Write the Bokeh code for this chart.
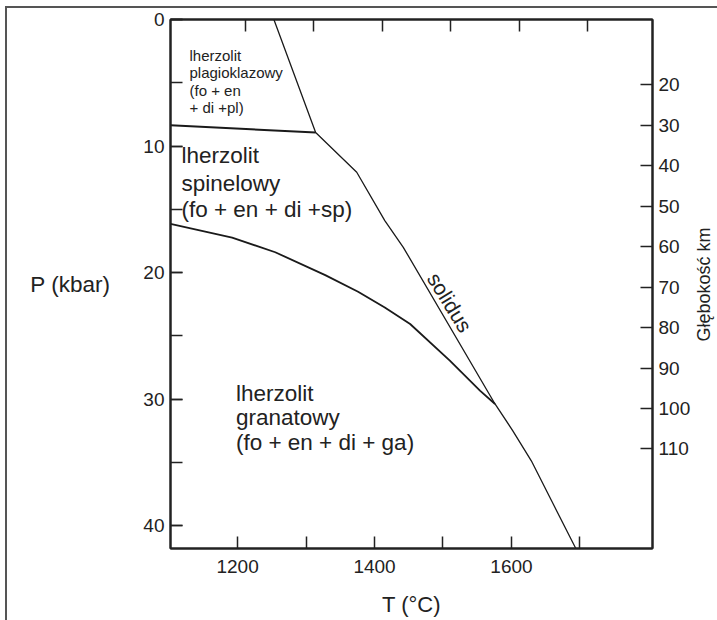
import math
from bokeh.plotting import figure
from bokeh.layouts import row
from bokeh.models import Range1d, LinearAxis, FixedTicker, SingleIntervalTicker
from bokeh.core.properties import value
from bokeh.embed import file_html
from bokeh.resources import INLINE

# ---------------- data ----------------
# solidus: T (degC), P (kbar)
solidus_T = [1253, 1314, 1374, 1415, 1442, 1576, 1602, 1629, 1661, 1694]
solidus_P = [0.0, 8.93, 12.07, 15.89, 18.0, 30.38, 32.5, 34.87, 38.29, 41.8]
# plagioclase / spinel lherzolite boundary
plag_T = [1102, 1314]
plag_P = [8.36, 8.93]
# spinel / garnet lherzolite boundary
garnet_T = [1102, 1192, 1255, 1328, 1376, 1415, 1452, 1510, 1554, 1576]
garnet_P = [16.15, 17.24, 18.39, 20.20, 21.51, 22.75, 24.06, 26.96, 29.33, 30.38]

t_ticks = [1200, 1300, 1400, 1500, 1600, 1700]
t_labels = {1200: "1200", 1300: "", 1400: "1400", 1500: "", 1600: "1600", 1700: ""}
p_ticks_interval = 10
depth_ticks = [20, 30, 40, 50, 60, 70, 80, 90, 100, 110]

# region labels (one entry per line)
small_lines = ["lherzolit", "plagioklazowy", "(fo + en", "+ di +pl)"]
spinel_lines = ["lherzolit", "spinelowy", "(fo + en + di +sp)"]
garnet_lines = ["lherzolit", "granatowy", "(fo + en + di + ga)"]
depth_title = "Głębokość km"

# ---------------- positions / styles ----------------
FONT = "Liberation Sans"
INK = "#1a1a1a"
TXT = "#222222"

small_pos = (1129.7, [2.85, 4.21, 5.61, 6.98])
spinel_pos = (1118.0, [10.75, 12.97, 15.02])
garnet_pos = (1197.5, [29.55, 31.44, 33.42])

frame_css = ("linear-gradient(#555,#555) 5px 6px / 2px 100% no-repeat, "
             "linear-gradient(#555,#555) 5px 6px / 100% 2px no-repeat, #ffffff")

MAIN_W, SIDE_W, H = 693, 24, 620

p = figure(width=MAIN_W, height=H, output_backend="svg", toolbar_location=None,
           x_range=Range1d(1102, 1806), y_range=Range1d(41.8, 0),
           min_border_left=170, min_border_right=40, min_border_top=19,
           min_border_bottom=72)
p.grid.visible = False
p.outline_line_color = "#222222"
p.outline_line_width = 2
p.background_fill_color = "white"
p.border_fill_color = None

p.extra_x_ranges = {"top": Range1d(1090.6, 1794.6)}
p.extra_y_ranges = {"km": Range1d(134.6, 3.85)}

HAS_ORIENT = "axis_label_orientation" in LinearAxis.properties()

def style_axis(ax, size="19px"):
    ax.axis_line_color = "#222222"
    ax.axis_line_width = 2
    ax.major_tick_line_color = "#222222"
    ax.major_tick_line_width = 1.5
    ax.minor_tick_line_color = "#222222"
    ax.minor_tick_line_width = 1.5
    ax.major_tick_in = 12
    ax.major_tick_out = 0
    ax.minor_tick_in = 12
    ax.minor_tick_out = 0
    ax.major_label_text_font = FONT
    ax.major_label_text_font_size = size
    ax.major_label_text_color = TXT
    ax.major_label_standoff = 6
    ax.axis_label_text_font = FONT
    ax.axis_label_text_font_style = "normal"
    ax.axis_label_text_color = TXT

# bottom axis
xb = p.xaxis[0]
style_axis(xb)
xb.ticker = FixedTicker(ticks=t_ticks)
xb.major_label_overrides = t_labels
xb.major_label_standoff = 11
xb.axis_label = "T (°C)"
xb.axis_label_text_font_size = "22px"
xb.axis_label_standoff = 16

# left axis
yl = p.yaxis[0]
style_axis(yl)
yl.ticker = SingleIntervalTicker(interval=p_ticks_interval, num_minor_ticks=2)
yl.axis_label = "P (kbar)"
yl.axis_label_text_font_size = "22.5px"
yl.axis_label_standoff = 30
if HAS_ORIENT:
    yl.axis_label_orientation = "horizontal"

# top axis (no labels)
xt = LinearAxis(x_range_name="top", ticker=FixedTicker(ticks=t_ticks))
style_axis(xt, size="0px")
xt.major_label_standoff = 0
p.add_layout(xt, "above")

# right axis (depth)
yr = LinearAxis(y_range_name="km", ticker=FixedTicker(ticks=depth_ticks))
style_axis(yr)
p.add_layout(yr, "right")

# curves
p.line(garnet_T, garnet_P, line_color=INK, line_width=1.8)
p.line(plag_T, plag_P, line_color=INK, line_width=2)
p.line(solidus_T, solidus_P, line_color=INK, line_width=1.3)

# region labels
def block(pos, lines, size):
    x, ys = pos
    p.text(x=[x] * len(lines), y=ys, text=lines, text_font=value(FONT),
           text_font_size=value(size), text_color=TXT,
           text_align="left", text_baseline="alphabetic")

block(small_pos, small_lines, "15px")
block(spinel_pos, spinel_lines, "22.5px")
block(garnet_pos, garnet_lines, "22.5px")

p.text(x=[1510], y=[22.35], text=["solidus"], text_font=value(FONT),
       text_font_size=value("21px"), text_color=TXT, angle=-1.021,
       text_align="center", text_baseline="middle")

# narrow side strip carrying the right-hand axis title (reads bottom to top)
s = figure(width=SIDE_W, height=H, output_backend="svg", toolbar_location=None,
           x_range=Range1d(0, SIDE_W), y_range=Range1d(H, 0),
           min_border=0)
s.axis.visible = False
s.grid.visible = False
s.outline_line_color = None
s.background_fill_color = None
s.border_fill_color = None
s.text(x=[10], y=[310.5], text=[depth_title], text_font=value(FONT),
       text_font_size=value("18px"), text_color=TXT, angle=math.pi / 2,
       text_align="center", text_baseline="middle")

layout = row(p, s, spacing=0)
layout.styles = {"background": frame_css}

open("out.html", "w").write(file_html(layout, INLINE))
